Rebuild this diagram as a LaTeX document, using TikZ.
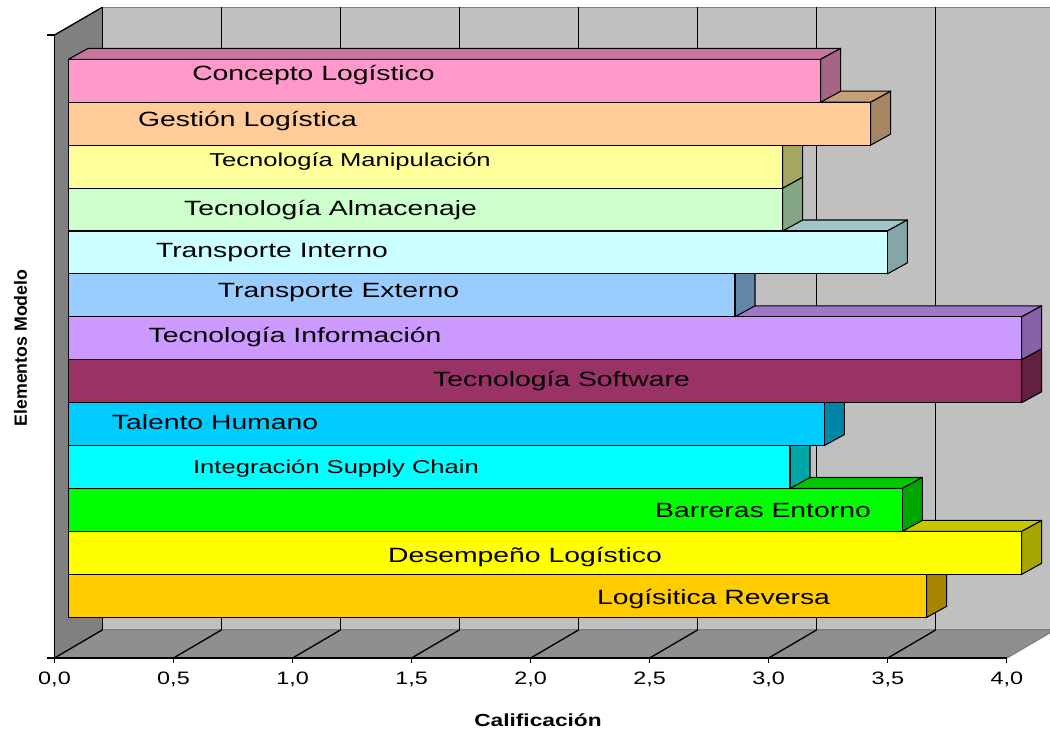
\documentclass[tikz,border=0pt]{standalone}
\usepackage{fontspec}
\usepackage{tikz}
\newfontfamily\chartfont[FakeStretch=1.3]{Liberation Sans}
\newfontfamily\barfont[FakeStretch=1.37]{Liberation Sans}
\newfontfamily\axisfont{Liberation Sans}

\definecolor{wallBack}{HTML}{C0C0C0}
\definecolor{wallSide}{HTML}{808080}
\definecolor{wallFloor}{HTML}{8F8F8F}
\definecolor{cConcepto}{HTML}{FF99CC}
\definecolor{cGestion}{HTML}{FFCC99}
\definecolor{cManip}{HTML}{FFFF99}
\definecolor{cAlmac}{HTML}{CCFFCC}
\definecolor{cTrInt}{HTML}{CCFFFF}
\definecolor{cTrExt}{HTML}{99CCFF}
\definecolor{cInfo}{HTML}{CC99FF}
\definecolor{cSoft}{HTML}{993366}
\definecolor{cTalento}{HTML}{00CCFF}
\definecolor{cSupply}{HTML}{00FFFF}
\definecolor{cBarreras}{HTML}{00FF00}
\definecolor{cDesemp}{HTML}{FFFF00}
\definecolor{cReversa}{HTML}{FFCC00}

\begin{document}
\begin{tikzpicture}[x=0.75pt,y=0.75pt,yscale=-1,xscale=1,
  barline/.style={draw=black,line width=0.8pt,line join=round},
  front/.style={barline,fill=#1},
  topface/.style={barline,fill=#1!78!black},
  sideface/.style={barline,fill=#1!65!black},
  grid/.style={black,line width=1pt},
  lbl/.style={font=\barfont\fontsize{15.5}{18}\selectfont,inner sep=0.75pt,anchor=base},
  smalllbl/.style={lbl,font=\barfont\fontsize{14}{17}\selectfont},
  ticklbl/.style={font=\chartfont\fontsize{13.5}{15}\selectfont,inner sep=0.75pt,anchor=base},
  axistitle/.style={font=\chartfont\bfseries\fontsize{13.1}{15}\selectfont,inner sep=0.75pt,anchor=base}]
\clip (0,0) rectangle (1050,736);

%Shape: Back wall
\draw [fill=wallBack,draw=wallSide,line width=1pt] (102.3,7.3) -- (1060,7.3) -- (1060,630) -- (102.3,630) -- cycle ;
%Shape: Floor
\draw [fill=wallFloor,draw=wallSide,line width=1pt] (54.5,658) -- (1006.8,658) -- (1054.6,630) -- (102.3,630) -- cycle ;
%Shape: Left wall
\draw [fill=wallSide,draw=none] (54.5,35) -- (102.3,7.3) -- (102.3,630) -- (54.5,658) -- cycle ;
\draw [grid] (54.5,35) -- (102.3,7.3) ;

%Straight Lines: back wall grid
\draw [grid] (102.3,7.3) -- (102.3,630) ;
\draw [grid] (221.3,7.3) -- (221.3,630) ;
\draw [grid] (340.4,7.3) -- (340.4,630) ;
\draw [grid] (459.4,7.3) -- (459.4,630) ;
\draw [grid] (578.5,7.3) -- (578.5,630) ;
\draw [grid] (697.5,7.3) -- (697.5,630) ;
\draw [grid] (816.5,7.3) -- (816.5,630) ;
\draw [grid] (935.6,7.3) -- (935.6,630) ;
%Straight Lines: floor grid
\draw [grid] (54.5,658) -- (102.3,630) ;
\draw [grid] (173.5,658) -- (221.3,630) ;
\draw [grid] (292.6,658) -- (340.4,630) ;
\draw [grid] (411.6,658) -- (459.4,630) ;
\draw [grid] (530.7,658) -- (578.5,630) ;
\draw [grid] (649.7,658) -- (697.5,630) ;
\draw [grid] (768.7,658) -- (816.5,630) ;
\draw [grid] (887.8,658) -- (935.6,630) ;

%Shape: Logisitica Reversa
\draw [topface=cReversa] (68.3,574.3) -- (926.7,574.3) -- (946.7,563.3) -- (88.3,563.3) -- cycle ;
\draw [sideface=cReversa] (926.7,574.3) -- (926.7,617.3) -- (946.7,606.3) -- (946.7,563.3) -- cycle ;
\draw [front=cReversa] (68.3,574.3) rectangle (926.7,617.3) ;
%Shape: Desempeno Logistico
\draw [topface=cDesemp] (68.3,531.4) -- (1021.7,531.4) -- (1041.7,520.4) -- (88.3,520.4) -- cycle ;
\draw [sideface=cDesemp] (1021.7,531.4) -- (1021.7,574.3) -- (1041.7,563.3) -- (1041.7,520.4) -- cycle ;
\draw [front=cDesemp] (68.3,531.4) rectangle (1021.7,574.3) ;
%Shape: Barreras Entorno
\draw [topface=cBarreras] (68.3,488.5) -- (902.3,488.5) -- (922.3,477.5) -- (88.3,477.5) -- cycle ;
\draw [sideface=cBarreras] (902.3,488.5) -- (902.3,531.4) -- (922.3,520.4) -- (922.3,477.5) -- cycle ;
\draw [front=cBarreras] (68.3,488.5) rectangle (902.3,531.4) ;
%Shape: Integracion Supply Chain
\draw [topface=cSupply] (68.3,445.6) -- (790,445.6) -- (810,434.6) -- (88.3,434.6) -- cycle ;
\draw [sideface=cSupply] (790,445.6) -- (790,488.5) -- (810,477.5) -- (810,434.6) -- cycle ;
\draw [front=cSupply] (68.3,445.6) rectangle (790,488.5) ;
%Shape: Talento Humano
\draw [topface=cTalento] (68.3,402.7) -- (824.3,402.7) -- (844.3,391.7) -- (88.3,391.7) -- cycle ;
\draw [sideface=cTalento] (824.3,402.7) -- (824.3,445.6) -- (844.3,434.6) -- (844.3,391.7) -- cycle ;
\draw [front=cTalento] (68.3,402.7) rectangle (824.3,445.6) ;
%Shape: Tecnologia Software
\draw [topface=cSoft] (68.3,359.7) -- (1021.7,359.7) -- (1041.7,348.7) -- (88.3,348.7) -- cycle ;
\draw [sideface=cSoft] (1021.7,359.7) -- (1021.7,402.7) -- (1041.7,391.7) -- (1041.7,348.7) -- cycle ;
\draw [front=cSoft] (68.3,359.7) rectangle (1021.7,402.7) ;
%Shape: Tecnologia Informacion
\draw [topface=cInfo] (68.3,316.8) -- (1021.7,316.8) -- (1041.7,305.8) -- (88.3,305.8) -- cycle ;
\draw [sideface=cInfo] (1021.7,316.8) -- (1021.7,359.7) -- (1041.7,348.7) -- (1041.7,305.8) -- cycle ;
\draw [front=cInfo] (68.3,316.8) rectangle (1021.7,359.7) ;
%Shape: Transporte Externo
\draw [topface=cTrExt] (68.3,273.9) -- (735,273.9) -- (755,262.9) -- (88.3,262.9) -- cycle ;
\draw [sideface=cTrExt] (735,273.9) -- (735,316.8) -- (755,305.8) -- (755,262.9) -- cycle ;
\draw [front=cTrExt] (68.3,273.9) rectangle (735,316.8) ;
%Shape: Transporte Interno
\draw [topface=cTrInt] (68.3,231) -- (887.3,231) -- (907.3,220) -- (88.3,220) -- cycle ;
\draw [sideface=cTrInt] (887.3,231) -- (887.3,273.9) -- (907.3,262.9) -- (907.3,220) -- cycle ;
\draw [front=cTrInt] (68.3,231) rectangle (887.3,273.9) ;
%Shape: Tecnologia Almacenaje
\draw [topface=cAlmac] (68.3,188.1) -- (782.7,188.1) -- (802.7,177.1) -- (88.3,177.1) -- cycle ;
\draw [sideface=cAlmac] (782.7,188.1) -- (782.7,231) -- (802.7,220) -- (802.7,177.1) -- cycle ;
\draw [front=cAlmac] (68.3,188.1) rectangle (782.7,231) ;
%Shape: Tecnologia Manipulacion
\draw [topface=cManip] (68.3,145.1) -- (782.7,145.1) -- (802.7,134.1) -- (88.3,134.1) -- cycle ;
\draw [sideface=cManip] (782.7,145.1) -- (782.7,188.1) -- (802.7,177.1) -- (802.7,134.1) -- cycle ;
\draw [front=cManip] (68.3,145.1) rectangle (782.7,188.1) ;
%Shape: Gestion Logistica
\draw [topface=cGestion] (68.3,102.2) -- (870.7,102.2) -- (890.7,91.2) -- (88.3,91.2) -- cycle ;
\draw [sideface=cGestion] (870.7,102.2) -- (870.7,145.1) -- (890.7,134.1) -- (890.7,91.2) -- cycle ;
\draw [front=cGestion] (68.3,102.2) rectangle (870.7,145.1) ;
%Shape: Concepto Logistico
\draw [topface=cConcepto] (68.3,59.3) -- (820.7,59.3) -- (840.7,48.3) -- (88.3,48.3) -- cycle ;
\draw [sideface=cConcepto] (820.7,59.3) -- (820.7,102.2) -- (840.7,91.2) -- (840.7,48.3) -- cycle ;
\draw [front=cConcepto] (68.3,59.3) rectangle (820.7,102.2) ;

% Text Node
\draw (313.5,80) node [lbl] (lblConcepto) {Concepto Logístico};
% Text Node
\draw (247.5,126) node [lbl] (lblGestion) {Gestión Logística};
% Text Node
\draw (350,166) node [smalllbl] (lblManip) {Tecnología Manipulación};
% Text Node
\draw (330.5,215) node [lbl] (lblAlmac) {Tecnología Almacenaje};
% Text Node
\draw (272,257) node [lbl] (lblTrInt) {Transporte Interno};
% Text Node
\draw (338.5,297) node [lbl] (lblTrExt) {Transporte Externo};
% Text Node
\draw (295,342) node [lbl] (lblInfo) {Tecnología Información};
% Text Node
\draw (561.5,386) node [lbl] (lblSoft) {Tecnología Software};
% Text Node
\draw (215,429) node [lbl] (lblTalento) {Talento Humano};
% Text Node
\draw (336,473.3) node [smalllbl] (lblSupply) {Integración Supply Chain};
% Text Node
\draw (763,517) node [lbl] (lblBarreras) {Barreras Entorno};
% Text Node
\draw (525,562) node [lbl] (lblDesemp) {Desempeño Logístico};
% Text Node
\draw (713.5,604) node [lbl] (lblReversa) {Logísitica Reversa};

%Straight Lines: axes and ticks
\draw [grid] (54.5,35) -- (54.5,658) -- (1006.8,658) ;
\draw [grid] (47,35) -- (54.5,35) ;
\draw [grid] (47,658) -- (54.5,658) ;
\draw [grid] (54.5,658) -- (54.5,663) ;
\draw [grid] (173.5,658) -- (173.5,663) ;
\draw [grid] (292.6,658) -- (292.6,663) ;
\draw [grid] (411.6,658) -- (411.6,663) ;
\draw [grid] (530.7,658) -- (530.7,663) ;
\draw [grid] (649.7,658) -- (649.7,663) ;
\draw [grid] (768.7,658) -- (768.7,663) ;
\draw [grid] (887.8,658) -- (887.8,663) ;
\draw [grid] (1006.8,658) -- (1006.8,663) ;

% Text Node
\draw (54.5,684) node [ticklbl] (tick0) {0,0};
\draw (173.5,684) node [ticklbl] (tick1) {0,5};
\draw (292.6,684) node [ticklbl] (tick2) {1,0};
\draw (411.6,684) node [ticklbl] (tick3) {1,5};
\draw (530.7,684) node [ticklbl] (tick4) {2,0};
\draw (649.7,684) node [ticklbl] (tick5) {2,5};
\draw (768.7,684) node [ticklbl] (tick6) {3,0};
\draw (887.8,684) node [ticklbl] (tick7) {3,5};
\draw (1006.8,684) node [ticklbl] (tick8) {4,0};

% Text Node
\draw (538,726.7) node [axistitle] (xtitle) {Calificación};
% Text Node
\draw (20.5,348) node [font=\axisfont\bfseries\fontsize{13.3}{15}\selectfont,inner sep=0.75pt,rotate=90] (ytitle) {Elementos Modelo};

\end{tikzpicture}
\end{document}
